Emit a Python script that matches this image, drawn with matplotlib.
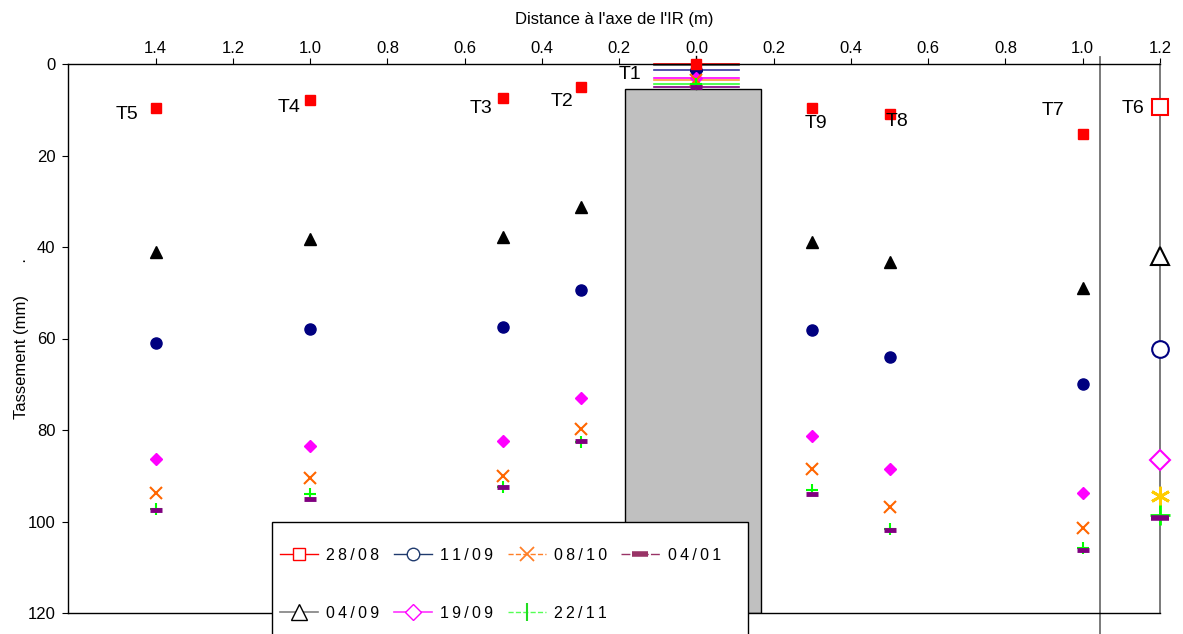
import matplotlib.pyplot as plt
import numpy as np
from matplotlib.lines import Line2D
from matplotlib.patches import Rectangle

plt.rcParams['font.family'] = ['Liberation Sans', 'DejaVu Sans']

# settlement plates along the section (m from the IR axis, left side negative)
plates = ['T5', 'T4', 'T3', 'T2', 'T1', 'T9', 'T8', 'T7']
dist = [-1.4, -1.0, -0.5, -0.3, 0.0, 0.3, 0.5, 1.0]

# settlement (mm) for each survey date, same order as plates
s_2808 = [9.7, 7.8, 7.5, 5.1, 0.1, 9.6, 10.9, 15.3]
s_0409 = [41.1, 38.3, 37.9, 31.3, 0.3, 38.9, 43.3, 49.0]
s_1109 = [61.0, 58.0, 57.4, 49.5, 1.4, 58.1, 64.0, 69.9]
s_1909 = [86.4, 83.4, 82.3, 72.9, 3.1, 81.4, 88.5, 93.8]
s_0810 = [93.7, 90.4, 90.0, 79.8, 3.5, 88.6, 96.8, 101.4]
s_2211 = [97.3, 94.0, 92.4, 82.6, 4.3, 93.1, 101.6, 105.9]
s_0401 = [97.5, 95.0, 92.5, 82.4, 5.0, 94.0, 101.8, 106.2]

# plate T6, read on its own gauge at 1.2 m
t6_dist = 1.2
t6 = [9.3, 42.0, 62.3, 86.5, 94.4, 98.5, 99.3]

dates = ['28/08', '04/09', '11/09', '19/09', '08/10', '22/11', '04/01']

fig = plt.figure(figsize=(11.83, 6.34), dpi=100)
ax = fig.add_axes([68/1183, 1-613/634, (1160-68)/1183, (613-64)/634])

# the IR block
ax.add_patch(Rectangle((-0.186, 5.5), 0.354, 114.5, fc='#C0C0C0', ec='black', lw=1, zorder=1))

# T1 readings shown as short horizontal lines over the block
t1_cols = ['#FF0000', '#555555', '#333399', '#FF00FF', '#FF9933', '#33FF33', '#800080']
t1_vals = [s[4] for s in [s_2808, s_0409, s_1109, s_1909, s_0810, s_2211, s_0401]]
for v, c in zip(t1_vals, t1_cols):
    ax.plot([-0.11, 0.11], [v, v], color=c, lw=1.2, zorder=2, clip_on=False)
ax.plot([0, 0], [-1.8, 5.5], color='black', lw=1, zorder=3, clip_on=False)

ax.plot(dist, s_0409, ls='none', marker='^', ms=8, color='black', zorder=4)
ax.plot(dist, s_1109, ls='none', marker='o', ms=8, color='#000080', zorder=4)
ax.plot(dist, s_1909, ls='none', marker='D', ms=6.5, color='#FF00FF', zorder=4)
ax.plot(dist, s_0810, ls='none', marker='x', ms=8, mew=1.5, color='#FF6600', zorder=4)
ax.plot(dist, s_2211, ls='none', marker='+', ms=9, mew=1.5, color='#00FF00', zorder=4)
ax.plot(dist, s_0401, ls='none', marker='_', ms=9, mew=3.5, color='#800080', zorder=5)
ax.plot(dist, s_2808, ls='none', marker='s', ms=7.5, color='#FF0000', zorder=5, clip_on=False)

# T6 gauge
ax.plot(t6_dist, t6[0], marker='s', ms=12, mfc='white', mec='#FF0000', mew=1.5, zorder=6, clip_on=False)
ax.plot(t6_dist, t6[1], marker='^', ms=13, mfc='white', mec='black', mew=1.5, zorder=6, clip_on=False)
ax.plot(t6_dist, t6[2], marker='o', ms=12, mfc='white', mec='#000080', mew=1.5, zorder=6, clip_on=False)
ax.plot(t6_dist, t6[3], marker='D', ms=10, mfc='white', mec='#FF00FF', mew=1.5, zorder=6, clip_on=False)
ax.plot(t6_dist, t6[4], marker=(6, 2, 0), ms=14, mec='#FFCC00', mew=2, zorder=6, clip_on=False)
ax.plot(t6_dist, t6[5], marker='+', ms=14, mew=2, color='#00FF00', zorder=6, clip_on=False)
ax.plot(t6_dist, t6[6], marker='_', ms=13, mew=4, color='#800080', zorder=7, clip_on=False)

# separator between the section and the T6 gauge
ax.plot([1.045, 1.045], [-1.5, 124.6], color='#707070', lw=1.3, clip_on=False, zorder=2)

# plate names
label_pos = {'T5': (-1.475, 11.1), 'T4': (-1.056, 9.6), 'T3': (-0.559, 9.8),
             'T2': (-0.349, 8.2), 'T1': (-0.171, 2.2), 'T9': (0.310, 12.9),
             'T8': (0.520, 12.6), 'T7': (0.922, 10.2), 'T6': (1.130, 9.8)}
for name, (lx, ly) in label_pos.items():
    ax.text(lx, ly, name, fontsize=14, ha='center', va='center', zorder=8)

ax.set_xlim(-1.627, 1.2)
ax.set_ylim(120, 0)
ticks = np.round(np.arange(-1.4, 1.21, 0.2), 1)
ax.set_xticks(ticks)
ax.set_xticklabels(['%.1f' % abs(t) for t in ticks])
ax.xaxis.tick_top()
ax.xaxis.set_label_position('top')
ax.set_yticks(np.arange(0, 121, 20))
ax.tick_params(axis='x', direction='out', length=4, pad=2, labelsize=12)
ax.tick_params(axis='y', direction='out', length=4, pad=5, labelsize=12)
ax.set_xlabel("Distance à l'axe de l'IR (m)", fontsize=12, labelpad=12)
ax.set_ylabel("Tassement (mm)       .", fontsize=12)
ax.yaxis.set_label_coords(-0.036, 0.5)

for sp in ['top', 'left', 'bottom']:
    ax.spines[sp].set_linewidth(1)
ax.spines['right'].set_color('#707070')
ax.spines['right'].set_linewidth(1.3)

# legend box, open at the bottom edge of the figure
fig.add_artist(Rectangle((272/1183, -0.05), 476/1183, (634-522)/634 + 0.05,
                         transform=fig.transFigure, fc='white', ec='black', lw=1, zorder=3))

handles = [
    Line2D([], [], color='#FF0000', marker='s', ms=9, mfc='white', mec='#FF0000', lw=1),
    Line2D([], [], color='#808080', marker='^', ms=11, mfc='white', mec='black', lw=1.2),
    Line2D([], [], color='#1F3A6E', marker='o', ms=9, mfc='white', mec='#1F3A6E', lw=1),
    Line2D([], [], color='#FF33FF', marker='D', ms=8, mfc='white', mec='#FF00FF', lw=1.2),
    Line2D([], [], color='#FF7F27', ls='--', marker='x', ms=10, mew=1.3, lw=1),
    Line2D([], [], color='#55FF55', ls='--', marker='|', ms=13, mew=1.5, mec='#22DD22', lw=1),
    Line2D([], [], color='#993366', ls='-.', marker='_', ms=12, mew=4, lw=1),
]
labels = ['\u2009'.join(d) for d in ['28/08', '04/09', '11/09', '19/09', '08/10', '22/11', '04/01']]
leg = fig.legend(handles, labels, ncol=4, loc='upper left',
                 bbox_to_anchor=(280/1183, 1-548/634), borderaxespad=0, borderpad=0,
                 fontsize=11.5, handlelength=2.4, handletextpad=0.5,
                 labelspacing=2.67, columnspacing=0.9,
                 numpoints=1, frameon=False)
leg.set_zorder(4)

fig.savefig('out.png', dpi=100)
